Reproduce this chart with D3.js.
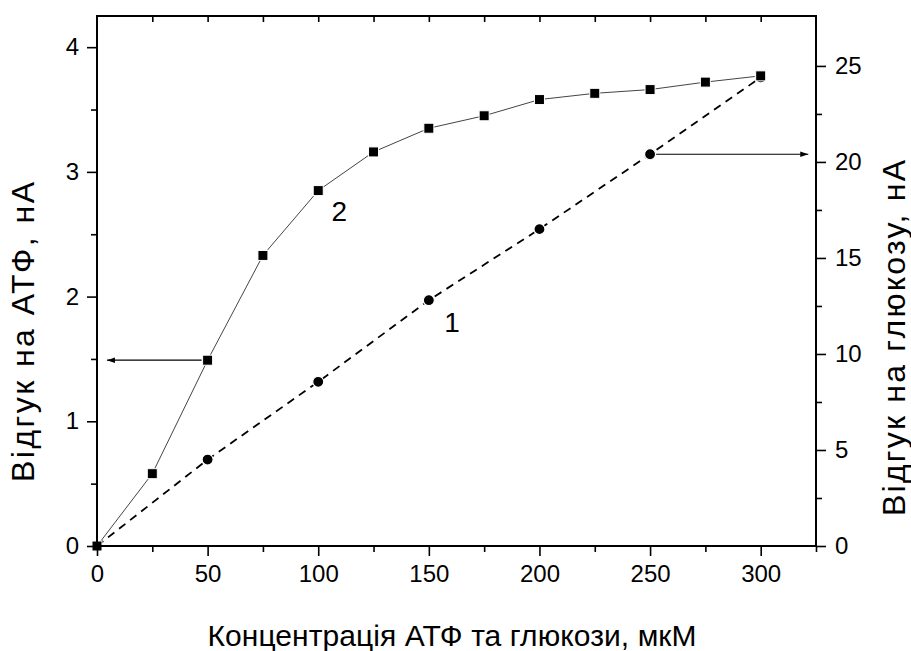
<!DOCTYPE html>
<html>
<head>
<meta charset="utf-8">
<script src="https://cdn.jsdelivr.net/npm/d3@7"></script>
<style>
  body { margin: 0; background: #fff; }
  text { font-family: "Liberation Sans", Arial, sans-serif; fill: #000; }
</style>
</head>
<body>
<div id="chart"></div>
<script>
// concentration, uM
var conc = [0, 25, 50, 75, 100, 125, 150, 175, 200, 225, 250, 275, 300];
// curve 2: response to ATP, nA (left axis)
var atp = [0, 0.58, 1.49, 2.33, 2.85, 3.16, 3.35, 3.45, 3.58, 3.63, 3.66, 3.72, 3.77];
// curve 1: response to glucose, nA (right axis)
var glucConc = [0, 50, 100, 150, 200, 250, 300];
var gluc = [0, 4.5, 8.55, 12.8, 16.5, 20.4, 24.4];

var xTicks = [0, 50, 100, 150, 200, 250, 300];
var yLeftTicks = [0, 1, 2, 3, 4];
var yRightTicks = [0, 5, 10, 15, 20, 25];

var width = 911, height = 651;
var m = {left: 97, right: 95, top: 16, bottom: 105};

var svg = d3.select("#chart")
  .append("svg")
    .attr("width", width)
    .attr("height", height);

var x = d3.scaleLinear().domain([0, 325]).range([m.left, width - m.right]);
var yL = d3.scaleLinear().domain([0, 4.25]).range([height - m.bottom, m.top]);
var yR = d3.scaleLinear().domain([0, 27.6]).range([height - m.bottom, m.top]);

var x0 = x.range()[0], x1 = x.range()[1];
var yb = yL.range()[0], yt = yL.range()[1];

svg.append("defs").append("marker")
  .attr("id", "head")
  .attr("viewBox", "0 0 10 10")
  .attr("refX", 10).attr("refY", 5)
  .attr("markerWidth", 14).attr("markerHeight", 8)
  .attr("markerUnits", "userSpaceOnUse")
  .attr("orient", "auto")
  .append("path")
    .attr("d", "M0,1.5 L10,5 L0,8.5 Z")
    .attr("fill", "#000");

// lines
var line2 = d3.line().x(function(d, i) { return x(conc[i]); }).y(function(d) { return yL(d); });
var line1 = d3.line().x(function(d, i) { return x(glucConc[i]); }).y(function(d) { return yR(d); });

svg.append("path")
  .datum(gluc)
  .attr("d", line1)
  .attr("fill", "none")
  .attr("stroke", "#000")
  .attr("stroke-width", 1.8)
  .attr("stroke-dasharray", "8,6");

svg.append("path")
  .datum(atp)
  .attr("d", line2)
  .attr("fill", "none")
  .attr("stroke", "#444")
  .attr("stroke-width", 1);

// arrows
svg.append("line")
  .attr("x1", x(50) - 6).attr("x2", x(4.5))
  .attr("y1", yL(1.49)).attr("y2", yL(1.49))
  .attr("stroke", "#000").attr("stroke-width", 1.2)
  .attr("marker-end", "url(#head)");
svg.append("line")
  .attr("x1", x(250) + 6).attr("x2", x(321.5))
  .attr("y1", yR(20.4)).attr("y2", yR(20.4))
  .attr("stroke", "#000").attr("stroke-width", 1.2)
  .attr("marker-end", "url(#head)");

// markers
svg.selectAll("circle.g")
  .data(gluc)
  .enter()
  .append("circle")
  .attr("class", "g")
  .attr("cx", function(d, i) { return x(glucConc[i]); })
  .attr("cy", function(d) { return yR(d); })
  .attr("r", 5.5)
  .attr("fill", "#000")
  .attr("stroke", "#fff")
  .attr("stroke-width", 1.2);

svg.selectAll("rect.a")
  .data(atp)
  .enter()
  .append("rect")
  .attr("class", "a")
  .attr("x", function(d, i) { return x(conc[i]) - 5; })
  .attr("y", function(d) { return yL(d) - 5; })
  .attr("width", 10)
  .attr("height", 10)
  .attr("fill", "#000")
  .attr("stroke", "#fff")
  .attr("stroke-width", 1);

// axes
function styleAxis(g) {
  g.select(".domain").remove();
  g.selectAll("line").attr("stroke", "#000").attr("stroke-width", 1.6);
  g.selectAll("text").style("font-size", "24px").style("font-family", "Liberation Sans, Arial, sans-serif");
}

var minorX = d3.range(25, 326, 50);
svg.append("g")
  .attr("transform", "translate(0," + yb + ")")
  .call(d3.axisBottom(x).tickValues(xTicks).tickSize(10).tickPadding(9).tickFormat(d3.format("d")))
  .call(styleAxis);
svg.append("g")
  .attr("transform", "translate(0," + yb + ")")
  .call(d3.axisBottom(x).tickValues(minorX).tickSize(6).tickFormat(""))
  .call(styleAxis);
// top: inner ticks only
svg.append("g")
  .attr("transform", "translate(0," + yt + ")")
  .call(d3.axisBottom(x).tickValues(d3.range(25, 301, 25)).tickSize(6).tickFormat(""))
  .call(styleAxis);

svg.append("g")
  .attr("transform", "translate(" + x0 + ",0)")
  .call(d3.axisLeft(yL).tickValues(yLeftTicks).tickSize(10).tickPadding(8).tickFormat(d3.format("d")))
  .call(styleAxis);
svg.append("g")
  .attr("transform", "translate(" + x0 + ",0)")
  .call(d3.axisLeft(yL).tickValues([0.5, 1.5, 2.5, 3.5]).tickSize(6).tickFormat(""))
  .call(styleAxis);

svg.append("g")
  .attr("transform", "translate(" + x1 + ",0)")
  .call(d3.axisRight(yR).tickValues(yRightTicks).tickSize(10).tickPadding(9).tickFormat(d3.format("d")))
  .call(styleAxis);
svg.append("g")
  .attr("transform", "translate(" + x1 + ",0)")
  .call(d3.axisRight(yR).tickValues([2.5, 7.5, 12.5, 17.5, 22.5]).tickSize(6).tickFormat(""))
  .call(styleAxis);

// frame
svg.append("rect")
  .attr("x", x0).attr("y", yt)
  .attr("width", x1 - x0).attr("height", yb - yt)
  .attr("fill", "none")
  .attr("stroke", "#000")
  .attr("stroke-width", 2);

// curve labels
svg.append("text").attr("x", x(106)).attr("y", yL(2.61)).style("font-size", "28px").text("2");
svg.append("text").attr("x", x(157)).attr("y", yR(11.15)).style("font-size", "28px").text("1");

// axis titles
svg.append("text")
  .attr("x", 452).attr("y", 646)
  .attr("text-anchor", "middle")
  .style("font-size", "30px")
  .attr("textLength", 489)
  .text("Концентрація АТФ та глюкози, мкМ");

svg.append("text")
  .attr("transform", "translate(34," + 332 + ") rotate(-90)")
  .attr("text-anchor", "middle")
  .style("font-size", "32px")
  .attr("textLength", 300)
  .text("Відгук на АТФ, нА");

svg.append("text")
  .attr("transform", "translate(905," + 338 + ") rotate(-90)")
  .attr("text-anchor", "middle")
  .style("font-size", "32px")
  .attr("textLength", 356)
  .text("Відгук на глюкозу, нА");
</script>
</body>
</html>
